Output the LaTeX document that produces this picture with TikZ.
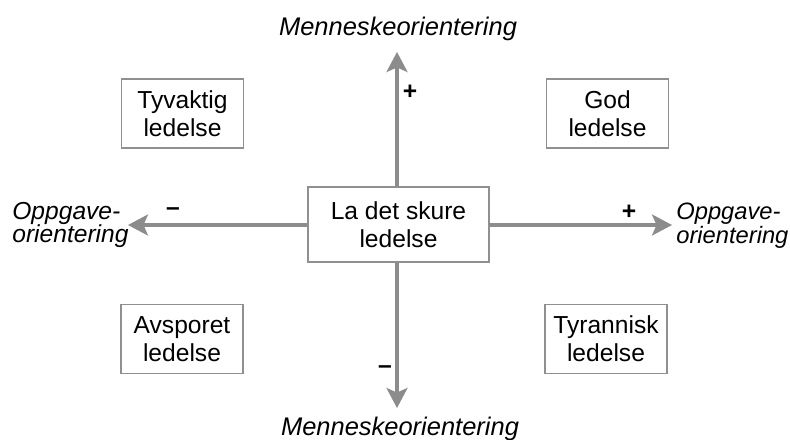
\documentclass[tikz,border=0pt]{standalone}
\usepackage{fontspec}
\setmainfont{Liberation Sans}
\usetikzlibrary{arrows.meta}

\definecolor{axisgray}{HTML}{8C8C8C}
\definecolor{boxgray}{HTML}{909090}

\begin{document}
\begin{tikzpicture}[x=0.02cm,y=-0.02cm,
      >={Stealth[length=4mm,width=4.2mm,inset=0.9mm]},
      lead/.style={draw=boxgray,line width=0.9pt,align=center,
        minimum width=2.44cm,minimum height=1.38cm,inner sep=2pt,
        font=\fontsize{14}{16}\selectfont},
      axis/.style={draw=axisgray,fill=axisgray,line width=1.8pt,->},
      dim/.style={font=\itshape\fontsize{14.5}{13.6}\selectfont,inner sep=0pt},
      side/.style={dim,font=\itshape\fontsize{13.5}{13.6}\selectfont,
        align=left,anchor=west},
      sign/.style={font=\bfseries\fontsize{14}{14}\selectfont,inner sep=0pt}
    ]
    \useasboundingbox (0,0) rectangle (790,439);
    % the five styles of leadership
    \node[lead,minimum width=3.62cm,minimum height=1.5cm] (C) at (398.5,224.5)
      {La det skure\\ ledelse};
    \node[lead] (TV) at (182.5,113.5) {Tyvaktig\\ ledelse};
    \node[lead] (GD) at (607.5,113.5) {God\\ ledelse};
    \node[lead] (AV) at (182,339) {Avsporet\\ ledelse};
    \node[lead] (TR) at (606,339) {Tyrannisk\\ ledelse};
    % axes
    \coordinate (up) at (397,52);
    \coordinate (down) at (397,408);
    \coordinate (left) at (128,225);
    \coordinate (right) at (672,225);
    \draw[axis] (C.north -| up) -- (up);
    \draw[axis] (C.south -| down) -- (down);
    \draw[axis] (C.west |- left) -- (left);
    \draw[axis] (C.east |- right) -- (right);
    % axis names
    \node[dim,anchor=base] (mtop) at (398,36) {Menneskeorientering};
    \node[dim,anchor=base] (mbot) at (400,435) {Menneskeorientering};
    \node[side,font=\itshape\fontsize{14}{13.6}\selectfont] (oleft) at (12,225)
      {Oppgave-\\orientering};
    \node[side] (oright) at (676,226) {Oppgave-\\orientering};
    % signs
    \node[sign] (ptop) at (410,92) {+};
    \node[sign] (mleft) at (173,212) {--};
    \node[sign] (pright) at (629,212) {+};
    \node[sign] (mbottom) at (385,370) {--};
\end{tikzpicture}
\end{document}
